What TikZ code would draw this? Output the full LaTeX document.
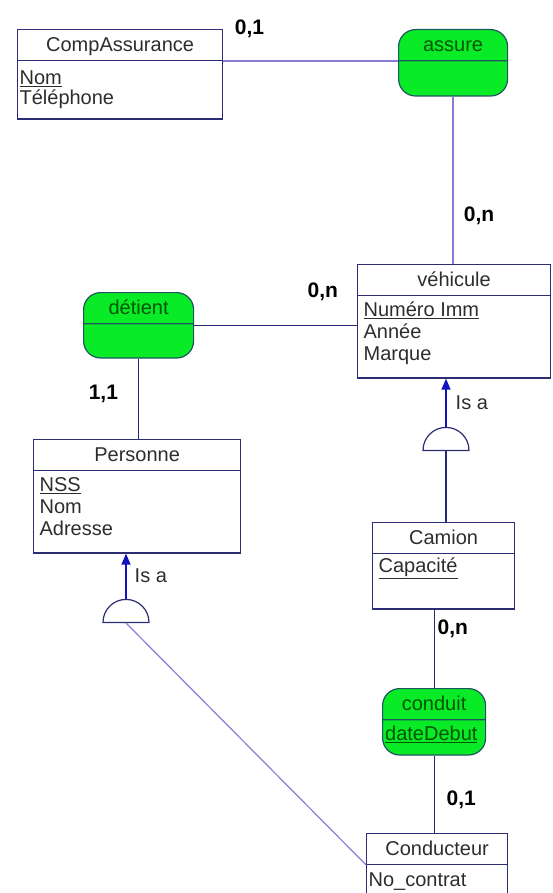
\documentclass[tikz,border=0pt]{standalone}
\usepackage{fontspec}
\setmainfont{Liberation Sans}
\usetikzlibrary{shapes.geometric,shapes.multipart,arrows.meta,positioning}
\definecolor{boxnavy}{RGB}{45,45,115}
\definecolor{linenavy}{RGB}{40,40,120}
\definecolor{linelilac}{RGB}{135,125,215}
\definecolor{isablue}{RGB}{20,20,190}
\definecolor{relgreen}{RGB}{10,235,40}
\definecolor{reledge}{RGB}{30,85,95}
\definecolor{reltext}{RGB}{0,85,0}
\definecolor{enttext}{RGB}{45,45,45}

% struts for the rows of the boxes
\newcommand{\hdrow}{\rule[-9pt]{0pt}{30pt}}
\newcommand{\toprow}[1]{\rule{0pt}{#1}}
\newcommand{\lastrow}[1]{\rule[-#1]{0pt}{#1}}

\begin{document}
\begin{tikzpicture}[x=1pt,y=-1pt,
  entity/.style={draw=boxnavy,line width=1.2pt,rectangle split,rectangle split parts=2,
                 anchor=north west,inner xsep=6pt,inner ysep=0pt,
                 font=\fontsize{20}{22}\selectfont,text=enttext,align=left,
                 rectangle split part align={center,left}},
  relation/.style={draw=reledge,line width=1.2pt,fill=relgreen,rectangle split,
                 rectangle split parts=2,rounded corners=17pt,anchor=north west,
                 inner ysep=0pt,inner xsep=2pt,font=\fontsize{20}{22}\selectfont,
                 text=reltext,align=center},
  isa/.style={semicircle,draw=boxnavy,line width=1.2pt,fill=white,minimum width=46pt,
              inner sep=0pt,anchor=chord center},
  card/.style={font=\fontsize{21}{22}\selectfont\bfseries,inner sep=0pt},
  isalbl/.style={font=\fontsize{20}{22}\selectfont,text=enttext,inner sep=0pt},
  link/.style={draw=linenavy,line width=1.2pt},
  soft/.style={draw=linelilac,line width=1.6pt},
  isalink/.style={draw=isablue,line width=1.4pt,-{Triangle[length=11pt,width=9pt]}}
]
  \useasboundingbox (0,0) rectangle (553,893);
  \clip (0,0) rectangle (553,893);

  %% ---- entities ----
  \node[entity,minimum width=205pt,inner xsep=2pt] (comp) at (17,29) {
    \hdrow CompAssurance
    \nodepart{two}
    \toprow{23pt}\underline{Nom} \\[-2pt]
    Téléphone\lastrow{14pt}
  };

  \node[entity,minimum width=193pt] (veh) at (357,264) {
    \hdrow véhicule
    \nodepart{two}
    \toprow{20pt}\underline{Numéro Imm} \\
    Année \\
    Marque\lastrow{17pt}
  };

  \node[entity,minimum width=207pt] (pers) at (33,439) {
    \hdrow Personne
    \nodepart{two}
    \toprow{20pt}\underline{NSS} \\
    Nom \\
    Adresse\lastrow{17pt}
  };

  \node[entity,minimum width=142pt] (cam) at (372,522) {
    \hdrow Camion
    \nodepart{two}
    \toprow{18pt}\underline{Capacité}\lastrow{36pt}
  };

  \node[entity,minimum width=141pt,inner xsep=2pt] (cond) at (366,833) {
    \hdrow Conducteur
    \nodepart{two}
    \toprow{21pt}No\_contrat\lastrow{18pt}
  };

  %% ---- relations ----
  \node[relation,minimum width=109pt] (assure) at (398,29) {
    \hdrow assure \nodepart{two} \rule{0pt}{34pt}
  };
  \node[relation,minimum width=110pt] (detient) at (83,292) {
    \hdrow détient \nodepart{two} \rule{0pt}{33pt}
  };
  \node[relation,minimum width=103pt] (conduit) at (382,688) {
    \hdrow conduit \nodepart{two} \toprow{20pt}\underline{dateDebut}\lastrow{14pt}
  };

  %% ---- is-a ----
  \node[isa] (isaV) at (446,451) {};
  \node[isa] (isaP) at (126,623) {};

  %% ---- links ----
  \draw[soft] (comp.text split east) -- node[card,above=22pt,pos=0.15] (c01a) {0,1}
                                        (assure.text split west);
  \draw[soft] (assure.south) -- node[card,right=10pt,pos=0.71] (c0na) {0,n}
                                (assure.south |- veh.north);
  \draw[link] (detient.east) -- node[card,above=24pt,pos=0.79] (c0nb) {0,n}
                                (detient.east -| veh.west);
  \draw[link] (detient.south) -- node[card,left=20pt,pos=0.44] (c11) {1,1}
                                 (detient.south |- pers.north);
  \draw[link] (conduit.north |- cam.south) -- node[card,right=3pt,pos=0.24] (c0nc) {0,n}
                                              (conduit.north);
  \draw[link] (conduit.south) -- node[card,right=12pt,pos=0.57] (c01b) {0,1}
                                 (conduit.south |- cond.north);

  % specialisations
  \draw[isalink] (isaV.apex) -- node[isalbl,right=9pt] (lblV) {Is a} (isaV.apex |- veh.south);
  \draw[link] (isaV.chord center) -- (isaV.chord center |- cam.north);
  \draw[isalink] (isaP.apex) -- node[isalbl,right=8pt] (lblP) {Is a} (isaP.apex |- pers.south);
  \draw[soft,line width=1.2pt] (isaP.chord center) -- (cond.text split west);
\end{tikzpicture}
\end{document}
